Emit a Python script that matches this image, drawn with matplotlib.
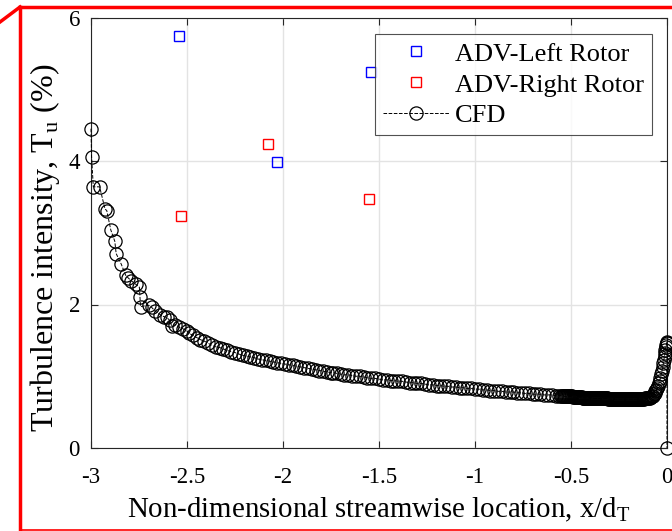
"""
Turbulence intensity upstream of the rotors: ADV measurements vs CFD.
"""
import numpy as np
import matplotlib
matplotlib.use("Agg")
import matplotlib.pyplot as plt
from matplotlib.lines import Line2D

plt.rcParams['font.family'] = ['Liberation Serif', 'DejaVu Serif']
plt.rcParams['mathtext.fontset'] = 'custom'
plt.rcParams['mathtext.rm'] = 'Liberation Serif'
plt.rcParams['axes.unicode_minus'] = False

# ADV measurements
adv_left_x = [-2.54, -2.03, -1.54]
adv_left_y = [5.74, 3.98, 5.24]
adv_right_x = [-2.53, -2.08, -1.55]
adv_right_y = [3.23, 4.24, 3.47]

# CFD profile along the centre line
cfd_x = [-3.000, -2.997, -2.988, -2.955, -2.927, -2.918, -2.897, -2.876, -2.869, -2.842,
         -2.820, -2.806, -2.790, -2.766, -2.748, -2.745, -2.742, -2.700, -2.684, -2.667,
         -2.640, -2.620, -2.606, -2.590, -2.580, -2.560, -2.540, -2.520, -2.500, -2.490,
         -2.470, -2.450, -2.430, -2.410, -2.390, -2.370, -2.350, -2.330, -2.310, -2.290,
         -2.270, -2.250, -2.230, -2.210, -2.190, -2.170, -2.150, -2.130, -2.110, -2.090,
         -2.070, -2.050, -2.030, -2.010, -1.990, -1.970, -1.950, -1.930, -1.910, -1.890,
         -1.870, -1.850, -1.830, -1.810, -1.790, -1.770, -1.750, -1.740, -1.720, -1.700,
         -1.680, -1.660, -1.640, -1.620, -1.600, -1.580, -1.560, -1.540, -1.520, -1.500,
         -1.480, -1.460, -1.440, -1.420, -1.400, -1.380, -1.360, -1.340, -1.320, -1.300,
         -1.280, -1.260, -1.240, -1.220, -1.200, -1.180, -1.160, -1.140, -1.120, -1.100,
         -1.080, -1.060, -1.040, -1.020, -1.000, -0.980, -0.960, -0.940, -0.920, -0.900,
         -0.880, -0.860, -0.840, -0.820, -0.800, -0.780, -0.760, -0.740, -0.720, -0.700,
         -0.680, -0.660, -0.640, -0.620, -0.600, -0.580, -0.560,
         -0.550, -0.545, -0.540, -0.535, -0.530, -0.525, -0.520, -0.515, -0.510, -0.505,
         -0.500, -0.495, -0.490, -0.485, -0.480, -0.475, -0.470, -0.465, -0.460, -0.455,
         -0.450, -0.445, -0.440, -0.435, -0.430, -0.425, -0.420, -0.415, -0.410, -0.405,
         -0.400, -0.395, -0.390, -0.385, -0.380, -0.375, -0.370, -0.365, -0.360, -0.355,
         -0.350, -0.345, -0.340, -0.335, -0.330, -0.325, -0.320, -0.315, -0.310, -0.305,
         -0.300, -0.295, -0.290, -0.285, -0.280, -0.275, -0.270, -0.265, -0.260, -0.255,
         -0.250, -0.245, -0.240, -0.235, -0.230, -0.225, -0.220, -0.215, -0.210, -0.205,
         -0.200, -0.195, -0.190, -0.185, -0.180, -0.175, -0.170, -0.165, -0.160, -0.155,
         -0.150, -0.145, -0.140, -0.135, -0.130, -0.125, -0.120, -0.115, -0.110, -0.105,
         -0.100, -0.095, -0.090, -0.085, -0.080, -0.075, -0.070, -0.065, -0.060, -0.055,
         -0.050, -0.046, -0.042, -0.038, -0.034, -0.030, -0.026, -0.022, -0.019, -0.016,
         -0.013, -0.010, -0.008, -0.006, -0.004, -0.002, -0.001, 0.000, 0.000]
cfd_y = [4.45, 4.06, 3.64, 3.64, 3.33, 3.31, 3.04, 2.88, 2.71, 2.56,
         2.41, 2.37, 2.33, 2.28, 2.24, 2.10, 1.97, 1.99, 1.96, 1.91,
         1.86, 1.83, 1.82, 1.78, 1.70, 1.72, 1.68, 1.66, 1.63, 1.60,
         1.57, 1.54, 1.51, 1.49, 1.46, 1.43, 1.41, 1.40, 1.38, 1.36,
         1.34, 1.33, 1.31, 1.29, 1.28, 1.27, 1.26, 1.24, 1.23, 1.22,
         1.21, 1.20, 1.19, 1.18, 1.17, 1.16, 1.15, 1.14, 1.13, 1.12,
         1.11, 1.10, 1.09, 1.08, 1.07, 1.06, 1.05, 1.05, 1.04, 1.03,
         1.02, 1.02, 1.01, 1.00, 1.00, 0.99, 0.98, 0.97, 0.97, 0.96,
         0.95, 0.95, 0.94, 0.94, 0.93, 0.93, 0.92, 0.91, 0.91, 0.90,
         0.90, 0.89, 0.88, 0.88, 0.87, 0.87, 0.86, 0.86, 0.85, 0.85,
         0.84, 0.84, 0.83, 0.83, 0.82, 0.82, 0.81, 0.81, 0.80, 0.80,
         0.79, 0.79, 0.78, 0.78, 0.78, 0.77, 0.77, 0.76, 0.76, 0.75,
         0.75, 0.75, 0.74, 0.74, 0.74, 0.73, 0.73,
         0.73, 0.73, 0.73, 0.72, 0.72, 0.72, 0.72, 0.72, 0.72, 0.72,
         0.72, 0.72, 0.71, 0.71, 0.71, 0.71, 0.71, 0.71, 0.71, 0.71,
         0.71, 0.71, 0.70, 0.70, 0.70, 0.70, 0.70, 0.70, 0.70, 0.70,
         0.70, 0.70, 0.70, 0.70, 0.69, 0.69, 0.69, 0.69, 0.69, 0.69,
         0.69, 0.69, 0.69, 0.69, 0.69, 0.69, 0.69, 0.69, 0.69, 0.68,
         0.68, 0.68, 0.68, 0.68, 0.68, 0.68, 0.68, 0.68, 0.68, 0.68,
         0.68, 0.68, 0.68, 0.68, 0.68, 0.68, 0.68, 0.68, 0.68, 0.68,
         0.68, 0.68, 0.68, 0.68, 0.68, 0.68, 0.68, 0.68, 0.68, 0.68,
         0.68, 0.68, 0.68, 0.68, 0.68, 0.68, 0.68, 0.69, 0.69, 0.69,
         0.69, 0.69, 0.70, 0.71, 0.72, 0.73, 0.75, 0.77, 0.79, 0.81,
         0.84, 0.87, 0.90, 0.94, 0.98, 1.03, 1.08, 1.13, 1.18, 1.23,
         1.28, 1.33, 1.37, 1.41, 1.44, 1.46, 1.47, 1.48, 0.00]

x_ticks = [-3, -2.5, -2, -1.5, -1, -0.5, 0]
x_ticklabels = ["-3", "-2.5", "-2", "-1.5", "-1", "-0.5", "0"]
y_ticks = [0, 2, 4, 6]

fig = plt.figure(figsize=(6.72, 5.31), dpi=100)
ax = fig.add_axes([91/672, 83/531, 576/672, 430.5/531])

ax.plot(adv_left_x, adv_left_y, ls="none", marker="s", ms=7.5, mfc="none",
        mec="#0000ff", mew=1.0, label="ADV-Left Rotor", zorder=3)
ax.plot(adv_right_x, adv_right_y, ls="none", marker="s", ms=7.5, mfc="none",
        mec="#ff0000", mew=1.0, label="ADV-Right Rotor", zorder=3)
ax.plot(cfd_x, cfd_y, ls="--", lw=0.7, color="black", marker="o", ms=9.5,
        mfc="none", mec="black", mew=0.9, label="CFD", clip_on=False, zorder=4)

ax.set_xlim(-3, 0)
ax.set_ylim(0, 6)
ax.set_xticks(x_ticks)
ax.set_xticklabels(x_ticklabels)
ax.set_yticks(y_ticks)
ax.grid(True, color="#e3e3e3", lw=1.0)
ax.set_axisbelow(True)
ax.tick_params(direction="in", length=5, width=0.8, color="#262626",
               labelsize=16.5, top=True, right=True)
ax.tick_params(axis="x", pad=14)
ax.tick_params(axis="y", pad=8)
for s in ax.spines.values():
    s.set_color("#262626")
    s.set_linewidth(0.8)

ax.set_xlabel(r"Non-dimensional streamwise location, x/d$_\mathrm{T}$", fontsize=20.8,
              labelpad=5)
ax.set_ylabel(r"Turbulence intensity, T$_\mathrm{u}$ (%)", fontsize=23)
ax.yaxis.set_label_coords(-0.050, 0.466)

leg = ax.legend(loc="upper right", fontsize=19, frameon=True, fancybox=False,
                edgecolor="#262626", handlelength=2.5, handletextpad=0.25,
                labelspacing=0.28, borderpad=0.3, borderaxespad=0,
                bbox_to_anchor=(0.974, 0.961))
leg.get_frame().set_linewidth(0.8)

# red highlight frame round the screenshot
W, H = 672.0, 531.0
red = dict(color="#ff0000", lw=2.5, transform=fig.transFigure, clip_on=False)
fig.add_artist(Line2D([20/W, 1.0], [1 - 7/H, 1 - 7/H], **red))
fig.add_artist(Line2D([20/W, 20/W], [1 - 7/H, 1 - 530/H], **red))
fig.add_artist(Line2D([20/W, 1.0], [1 - 530/H, 1 - 530/H], color="#ff0000", lw=1.2,
                      transform=fig.transFigure))
fig.add_artist(Line2D([0, 20/W], [1 - 22/H, 1 - 7/H], **red))

fig.savefig("out.png", dpi=100)
